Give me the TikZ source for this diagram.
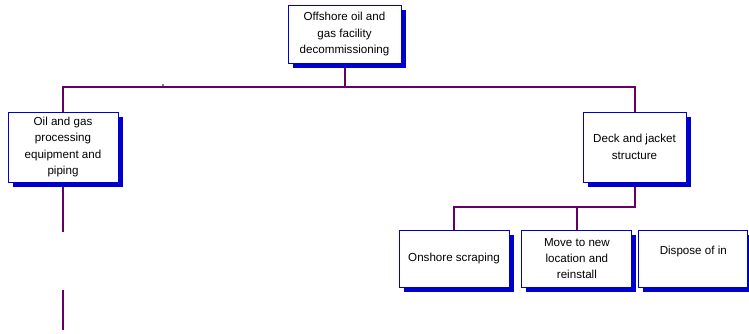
\documentclass[tikz,border=0pt]{standalone}
\usepackage{fontspec}
\setmainfont{Liberation Sans}
\usetikzlibrary{shadows,backgrounds,positioning}
\definecolor{boxblue}{RGB}{0,0,204}
\definecolor{linkpurple}{RGB}{102,0,102}
\tikzstyle{box}=[rectangle,draw=boxblue,line width=0.9pt,fill=white,inner sep=2pt,align=center,font=\fontsize{11.6}{16.4}\selectfont,drop shadow={shadow xshift=4.5pt,shadow yshift=-5pt,fill=boxblue,opacity=1}]
\tikzstyle{link}=[draw=linkpurple,line width=2pt]

\begin{document}
\begin{tikzpicture}[x=1pt,y=-1pt]
\useasboundingbox (0,0) rectangle (749,333);

\node (top) [box,minimum width=113pt,minimum height=58pt] at (344.5,34) {Offshore oil and\\gas facility\\decommissioning} ;
\node (oilgas) [box,minimum width=110pt,minimum height=70pt] at (63,147) {Oil and gas\\processing\\equipment and\\piping} ;
\node (deck) [box,minimum width=103pt,minimum height=70pt] at (634.5,147) {Deck and jacket\\structure} ;
\node (onshore) [box,minimum width=110pt,minimum height=57pt] at (454,258.5) {Onshore scraping} ;
\node (move) [box,minimum width=110pt,minimum height=57pt,right=12pt of onshore] {Move to new\\location and\\reinstall} ;
\node (dispose) [box,minimum width=109pt,minimum height=57pt,right=6pt of move] {Dispose of in\\\phantom{x}} ;

\coordinate (bus) at (344.5,87) ;
\coordinate (bus2) at (634.5,207) ;
\coordinate (cut1) at (63,232) ;
\coordinate (cut2) at (63,290) ;
\coordinate (cut3) at (63,330) ;
\coordinate (dot) at (163,85) ;

\begin{scope}[on background layer]
\draw [link] (top.south) -- (bus) -| (oilgas.north) ;
\draw [link] (bus) -| (deck.north) ;
\draw [link] (oilgas.south) -- (cut1) ;
\draw [link] (cut2) -- (cut3) ;
\draw [link] (deck.south) -- (bus2) -| (onshore.north) ;
\draw [link] (move.north |- bus2) -- (move.north) ;
\end{scope}

\fill [gray] ([shift={(-1,-1)}]dot) rectangle ([shift={(1,1)}]dot) ;

\end{tikzpicture}
\end{document}
